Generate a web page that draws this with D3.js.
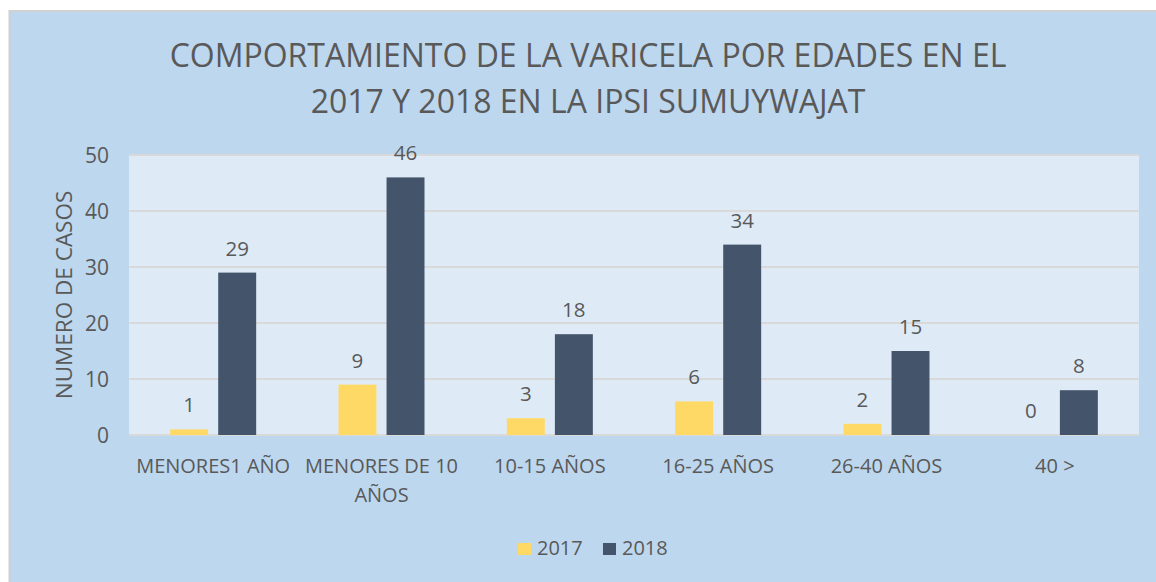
<!DOCTYPE html>
<head>
  <meta charset="utf-8">
  <script src="https://d3js.org/d3.v7.min.js"></script>
  <style>
  body { margin: 0; background: #fff; }
  #chart text {
    fill: #595959;
    font-family: "Open Sans", sans-serif;
  }
  </style>
</head>

<body>
  <svg id="chart"></svg>
  <script>

    var categories = ["MENORES1 AÑO", "MENORES DE 10 AÑOS", "10-15 AÑOS", "16-25 AÑOS", "26-40 AÑOS", "40 >"];
    var series = ["2017", "2018"];
    var values2017 = [1, 9, 3, 6, 2, 0];
    var values2018 = [29, 46, 18, 34, 15, 8];
    var yTicks = [0, 10, 20, 30, 40, 50];
    var titleLines = ["COMPORTAMIENTO DE LA VARICELA POR EDADES EN EL", "2017 Y 2018 EN LA IPSI SUMUYWAJAT"];

    var colors = { "2017": "#FFD966", "2018": "#44546A" };
    var seriesValues = { "2017": values2017, "2018": values2018 };

    var width = 1156,
        height = 582,
        plot = { left: 129, right: 1139, top: 155, bottom: 435 };

    var svg = d3.select('#chart')
        .attr('width', width)
        .attr('height', height);

    // chart area background
    svg.append('rect')
        .attr('x', 9.5).attr('y', 11)
        .attr('width', width).attr('height', height)
        .style('fill', '#BDD7EE')
        .style('stroke', '#D0D0D0')
        .style('stroke-width', 2);

    svg.append('rect')
        .attr('x', plot.left).attr('y', plot.top)
        .attr('width', plot.right - plot.left)
        .attr('height', plot.bottom - plot.top)
        .style('fill', '#DEEBF7');

    var x0 = d3.scaleBand()
        .domain(categories)
        .range([plot.left, plot.right]);

    var groupWidth = 86;
    var x1 = d3.scaleBand()
        .domain(series)
        .range([0, groupWidth])
        .paddingInner(0.21);

    var y = d3.scaleLinear()
        .domain([0, 50])
        .range([plot.bottom, plot.top]);

    // gridlines
    svg.append('g').selectAll('line')
        .data(yTicks)
      .enter().append('line')
        .attr('x1', plot.left).attr('x2', plot.right)
        .attr('y1', function(d) { return y(d); })
        .attr('y2', function(d) { return y(d); })
        .style('stroke', '#D9D9D9')
        .style('stroke-width', 2);

    // y tick labels
    svg.append('g').selectAll('text')
        .data(yTicks)
      .enter().append('text')
        .attr('x', 109)
        .attr('y', function(d) { return y(d); })
        .attr('dy', '0.36em')
        .style('text-anchor', 'end')
        .style('font-size', '21px')
        .text(function(d) { return d; });

    // y axis title
    svg.append('text')
        .attr('transform', 'translate(72,' + ((plot.top + plot.bottom) / 2) + ') rotate(-90)')
        .style('text-anchor', 'middle')
        .style('font-size', '22.5px')
        .text('NUMERO DE CASOS');

    // bars
    var groups = svg.append('g').selectAll('g')
        .data(categories)
      .enter().append('g')
        .attr('transform', function(d) {
          return 'translate(' + (x0(d) + (x0.bandwidth() - groupWidth) / 2) + ',0)';
        });

    var cells = groups.selectAll('g')
        .data(function(d, i) { return series.map(function(s) { return { s: s, v: seriesValues[s][i] }; }); })
      .enter().append('g');

    cells.append('rect')
        .attr('x', function(d) { return x1(d.s); })
        .attr('width', x1.bandwidth())
        .attr('y', function(d) { return y(d.v); })
        .attr('height', function(d) { return y(0) - y(d.v); })
        .style('fill', function(d) { return colors[d.s]; });

    cells.append('text')
        .attr('x', function(d) { return x1(d.s) + x1.bandwidth() / 2; })
        .attr('y', function(d) { return y(d.v) - 17; })
        .style('text-anchor', 'middle')
        .style('font-size', '20.5px')
        .text(function(d) { return d.v; });

    // x axis labels (wrap long label)
    svg.append('g').selectAll('text')
        .data(categories)
      .enter().append('text')
        .attr('x', function(d) { return x0(d) + x0.bandwidth() / 2; })
        .attr('y', 473)
        .style('text-anchor', 'middle')
        .style('font-size', '20px')
        .each(function(d) {
          var t = d3.select(this);
          var lines = d === "MENORES DE 10 AÑOS" ? ["MENORES DE 10", "AÑOS"] : [d];
          lines.forEach(function(l, i) {
            t.append('tspan')
              .attr('x', x0(d) + x0.bandwidth() / 2)
              .attr('dy', i === 0 ? 0 : 29)
              .text(l);
          });
        });

    // title
    svg.append('g').selectAll('text')
        .data(titleLines)
      .enter().append('text')
        .attr('x', 588)
        .attr('y', function(d, i) { return 67 + i * 45.5; })
        .style('text-anchor', 'middle')
        .style('font-size', '32px')
        .text(function(d) { return d; });

    // legend
    var legend = svg.append('g').selectAll('g')
        .data(series)
      .enter().append('g')
        .attr('transform', function(d, i) { return 'translate(' + (518 + i * 85) + ',543)'; });

    legend.append('rect')
        .attr('width', 13).attr('height', 12)
        .style('fill', function(d) { return colors[d]; });

    legend.append('text')
        .attr('x', 19).attr('y', 12)
        .style('font-size', '20px')
        .text(function(d) { return d; });

  </script>
</body>
